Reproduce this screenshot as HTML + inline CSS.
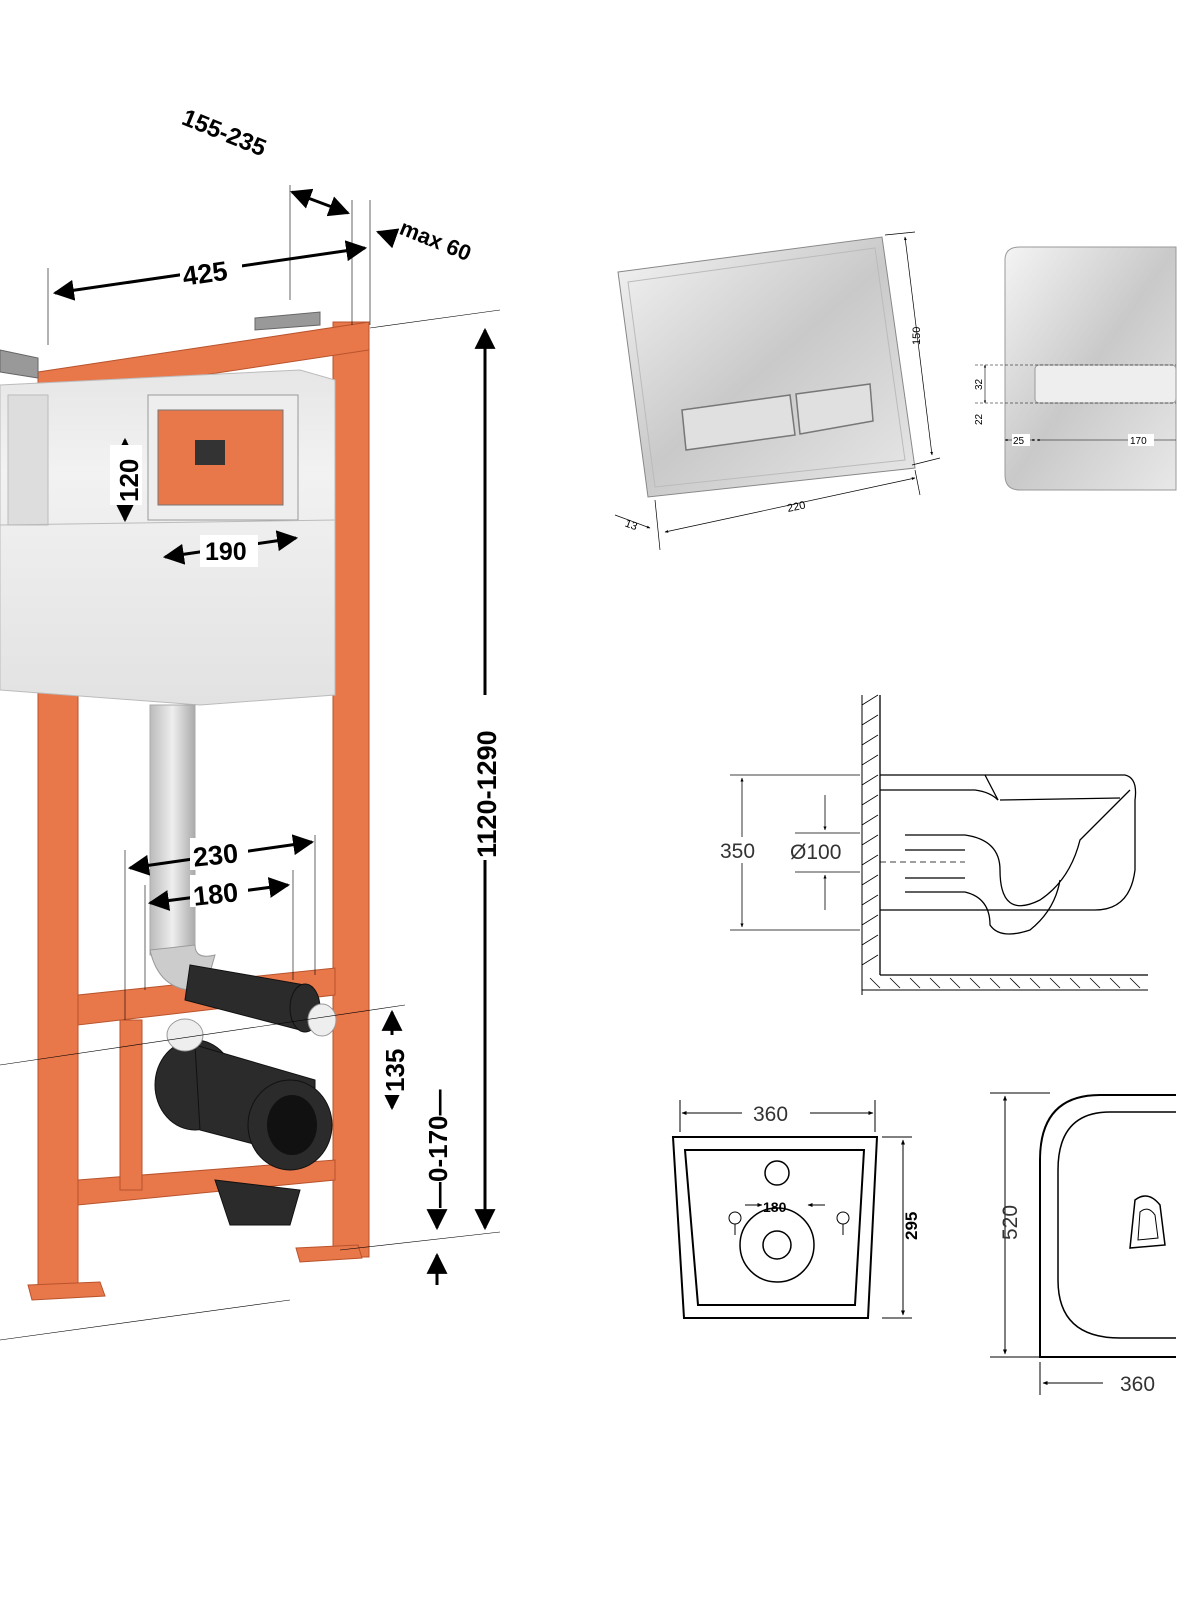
<!DOCTYPE html>
<html><head><meta charset="utf-8"><style>
html,body{margin:0;padding:0;background:#fff;width:1200px;height:1600px;overflow:hidden}
svg{display:block}
text{font-family:"Liberation Sans",sans-serif}
</style></head><body>
<svg width="1200" height="1600" viewBox="0 0 1200 1600" xmlns="http://www.w3.org/2000/svg">
<defs>
<marker id="a" viewBox="0 0 10 10" refX="9" refY="5" markerWidth="7" markerHeight="7" orient="auto-start-reverse"><path d="M0,0L10,5L0,10z" fill="#000"/></marker>
<marker id="s" viewBox="0 0 10 10" refX="9" refY="5" markerWidth="5" markerHeight="5" orient="auto-start-reverse"><path d="M0,1L10,5L0,9z" fill="#000"/></marker>
<linearGradient id="pl" x1="0" y1="0" x2="1" y2="1"><stop offset="0" stop-color="#f4f4f4"/><stop offset=".5" stop-color="#c9c9c9"/><stop offset="1" stop-color="#e8e8e8"/></linearGradient>
<linearGradient id="ci" x1="0" y1="0" x2="0" y2="1"><stop offset="0" stop-color="#e6e6e6"/><stop offset=".3" stop-color="#f2f2f2"/><stop offset="1" stop-color="#e2e2e2"/></linearGradient>
<linearGradient id="pp" x1="0" y1="0" x2="1" y2="0"><stop offset="0" stop-color="#bbb"/><stop offset=".5" stop-color="#eee"/><stop offset="1" stop-color="#aaa"/></linearGradient>
</defs>

<!-- ===== Frame ===== -->
<g fill="#e8774a" stroke="#b8532c" stroke-width="1">
<!-- right post -->
<rect x="333" y="322" width="36" height="935"/>
<!-- left post -->
<rect x="38" y="372" width="40" height="920"/>
<!-- top bar -->
<polygon points="38,372 369,322 369,350 38,400"/>
<!-- lower bars -->
<polygon points="78,995 335,968 335,995 78,1025"/>
<polygon points="78,1180 335,1160 335,1180 78,1205"/>
<rect x="120" y="1020" width="22" height="170"/>
<!-- feet -->
<polygon points="28,1285 100,1282 105,1296 32,1300"/>
<polygon points="296,1248 358,1245 362,1258 300,1262"/>
</g>
<g fill="#999" stroke="#666">
<polygon points="255,318 320,312 320,325 255,330"/>
<polygon points="0,350 38,358 38,378 0,372"/>
</g>
<!-- cistern -->
<path d="M0,385 L300,370 L335,380 L335,695 L200,705 L0,690 Z" fill="url(#ci)" stroke="#bbb"/>
<rect x="8" y="395" width="40" height="130" fill="#ddd" stroke="#bbb"/>
<rect x="148" y="395" width="150" height="125" fill="#eee" stroke="#999"/>
<rect x="158" y="410" width="125" height="95" fill="#e8774a" stroke="#777"/>
<rect x="195" y="440" width="30" height="25" fill="#333"/>
<line x1="0" y1="525" x2="335" y2="520" stroke="#bbb"/>
<!-- pipe -->
<rect x="150" y="705" width="45" height="250" fill="url(#pp)" stroke="#aaa"/>
<path d="M150,950 Q160,995 205,990 L215,955 Q195,960 195,945Z" fill="#ccc" stroke="#999"/>
<!-- black fittings -->
<g fill="#2b2b2b" stroke="#111">
<polygon points="190,965 305,985 300,1030 185,1000"/>
<ellipse cx="305" cy="1008" rx="15" ry="24"/>
<ellipse cx="195" cy="1085" rx="40" ry="45"/>
<polygon points="195,1045 315,1080 315,1160 200,1130"/>
<ellipse cx="290" cy="1125" rx="42" ry="45"/>
<polygon points="215,1180 300,1190 290,1225 230,1225"/>
</g>
<ellipse cx="292" cy="1125" rx="25" ry="30" fill="#111"/>
<ellipse cx="185" cy="1035" rx="18" ry="16" fill="#eee" stroke="#999"/>
<ellipse cx="322" cy="1020" rx="14" ry="16" fill="#eee" stroke="#999"/>

<!-- ===== Frame dimensions ===== -->
<g stroke="#000" stroke-width="1" fill="none">
<line x1="48" y1="268" x2="48" y2="345" stroke-width=".6"/>
<line x1="290" y1="185" x2="290" y2="300" stroke-width=".6"/>
<line x1="352" y1="200" x2="352" y2="325" stroke-width=".6"/>
<line x1="370" y1="200" x2="370" y2="325" stroke-width=".6"/>
<line x1="370" y1="328" x2="500" y2="310" stroke-width=".6"/>
<line x1="340" y1="1250" x2="500" y2="1232" stroke-width=".6"/>
<line x1="0" y1="1340" x2="290" y2="1300" stroke-width=".6"/>
<line x1="0" y1="1065" x2="405" y2="1005" stroke-width=".6"/>
<line x1="125" y1="850" x2="125" y2="1020" stroke-width=".6"/>
<line x1="315" y1="835" x2="315" y2="975" stroke-width=".6"/>
<line x1="145" y1="885" x2="145" y2="990" stroke-width=".6"/>
<line x1="293" y1="870" x2="293" y2="980" stroke-width=".6"/>
</g>
<g stroke="#000" stroke-width="3" fill="none" marker-start="url(#a)" marker-end="url(#a)">
<line x1="55" y1="293" x2="365" y2="248"/>
<line x1="292" y1="192" x2="348" y2="213"/>
<line x1="485" y1="330" x2="485" y2="1228"/>
<line x1="125" y1="440" x2="125" y2="520"/>
<line x1="165" y1="557" x2="296" y2="538"/>
<line x1="130" y1="868" x2="312" y2="842"/>
<line x1="150" y1="903" x2="288" y2="885"/>
<line x1="392" y1="1012" x2="392" y2="1108"/>
</g>
<line x1="378" y1="232" x2="392" y2="237" stroke="#000" stroke-width="3" marker-start="url(#a)"/>
<line x1="437" y1="1210" x2="437" y2="1228" stroke="#000" stroke-width="3" marker-end="url(#a)"/>
<line x1="437" y1="1255" x2="437" y2="1285" stroke="#000" stroke-width="3" marker-start="url(#a)"/>
<g font-weight="bold" fill="#000">
<rect x="180" y="255" width="62" height="30" fill="#fff"/>
<text x="182" y="282" font-size="27" transform="rotate(-8 210 270)">425</text>
<text x="170" y="143" font-size="24" transform="rotate(22 225 160)">155-235</text>
<text x="392" y="245" font-size="22" transform="rotate(22 425 255)">max 60</text>
<rect x="110" y="445" width="32" height="60" fill="#fff"/>
<text x="138" y="502" font-size="26" transform="rotate(-90 138 502)">120</text>
<rect x="200" y="535" width="58" height="32" fill="#fff"/>
<text x="205" y="560" font-size="25">190</text>
<rect x="190" y="838" width="58" height="32" fill="#fff"/>
<text x="193" y="864" font-size="27" transform="rotate(-6 220 855)">230</text>
<rect x="190" y="875" width="58" height="32" fill="#fff"/>
<text x="193" y="903" font-size="27" transform="rotate(-6 220 893)">180</text>
<rect x="470" y="695" width="30" height="165" fill="#fff"/>
<text x="496" y="858" font-size="27" transform="rotate(-90 496 858)">1120-1290</text>
<rect x="378" y="1035" width="30" height="60" fill="#fff"/>
<text x="404" y="1092" font-size="26" transform="rotate(-90 404 1092)">135</text>
<text x="447" y="1208" font-size="26" transform="rotate(-90 447 1208)">—0-170—</text>
</g>

<!-- ===== Flush plate ===== -->
<polygon points="618,272 882,237 915,468 648,497" fill="url(#pl)" stroke="#888"/>
<polygon points="628,282 875,248 905,460 655,487" fill="none" stroke="#bbb"/>
<polygon points="682,410 790,395 795,435 686,450" fill="#e0e0e0" stroke="#777" stroke-width="1.5"/>
<polygon points="796,394 870,384 873,421 800,434" fill="#e0e0e0" stroke="#777" stroke-width="1.5"/>
<g stroke="#000" stroke-width=".7" fill="none">
<line x1="885" y1="235" x2="915" y2="232"/><line x1="912" y1="465" x2="940" y2="458"/>
<line x1="905" y1="237" x2="932" y2="455" marker-start="url(#s)" marker-end="url(#s)"/>
<line x1="655" y1="500" x2="660" y2="550"/><line x1="915" y1="470" x2="920" y2="495"/>
<line x1="665" y1="532" x2="915" y2="478" marker-start="url(#s)" marker-end="url(#s)"/>
<line x1="615" y1="515" x2="650" y2="528" marker-end="url(#s)"/>
</g>
<text x="920" y="345" font-size="11" transform="rotate(-90 920 345)">150</text>
<text x="788" y="512" font-size="11" transform="rotate(-12 788 512)">220</text>
<text x="625" y="528" font-size="11" transform="rotate(20 630 525)">13</text>

<!-- second plate -->
<path d="M1005,260 Q1005,247 1020,247 L1176,247 L1176,490 L1020,490 Q1005,490 1005,475Z" fill="url(#pl)" stroke="#999"/>
<rect x="1035" y="365" width="141" height="38" rx="4" fill="#eee" stroke="#999"/>
<g stroke="#000" stroke-width=".6">
<line x1="975" y1="365" x2="1176" y2="365" stroke-dasharray="3,2"/>
<line x1="975" y1="403" x2="1176" y2="403" stroke-dasharray="3,2"/>
<line x1="985" y1="365" x2="985" y2="403" marker-start="url(#s)" marker-end="url(#s)"/>
<line x1="1005" y1="440" x2="1035" y2="440" marker-start="url(#s)" marker-end="url(#s)"/>
<line x1="1037" y1="440" x2="1176" y2="440" marker-start="url(#s)"/>
</g>
<text x="982" y="390" font-size="10" transform="rotate(-90 982 390)">32</text>
<text x="982" y="425" font-size="10" transform="rotate(-90 982 425)">22</text>
<rect x="1012" y="434" width="18" height="12" fill="#fff"/><text x="1013" y="444" font-size="10">25</text>
<rect x="1128" y="434" width="26" height="12" fill="#fff"/><text x="1130" y="444" font-size="10">170</text>

<!-- ===== Side view toilet ===== -->
<g stroke="#000" fill="none" stroke-width="1.3">
<line x1="880" y1="695" x2="880" y2="975"/>
<line x1="880" y1="975" x2="1148" y2="975"/>
<path d="M880,775 L1125,775 Q1138,778 1135,800 L1135,870 Q1130,910 1095,910 L880,910"/>
<path d="M880,790 L975,790 Q990,792 998,800"/>
<path d="M985,775 L998,800"/>
<path d="M1000,800 L1120,798"/>
<path d="M905,835 L965,835 M905,850 L965,850 M905,878 L965,878 M905,892 L965,892"/>
<path d="M965,835 Q1000,840 1000,870 Q1000,920 1040,900 Q1070,880 1080,840 Q1100,820 1130,790"/>
<path d="M965,892 Q990,898 990,925 Q1000,940 1030,930 Q1055,910 1060,880"/>
<line x1="880" y1="862" x2="965" y2="862" stroke-dasharray="6,4" stroke-width=".8"/>
</g>
<g stroke="#000" stroke-width="1">
<line x1="862" y1="695" x2="862" y2="995"/>
<g stroke-width=".8">
<line x1="862" y1="705" x2="878" y2="695"/><line x1="862" y1="725" x2="878" y2="715"/><line x1="862" y1="745" x2="878" y2="735"/><line x1="862" y1="765" x2="878" y2="755"/><line x1="862" y1="785" x2="878" y2="775"/><line x1="862" y1="805" x2="878" y2="795"/><line x1="862" y1="825" x2="878" y2="815"/><line x1="862" y1="845" x2="878" y2="835"/><line x1="862" y1="865" x2="878" y2="855"/><line x1="862" y1="885" x2="878" y2="875"/><line x1="862" y1="905" x2="878" y2="895"/><line x1="862" y1="925" x2="878" y2="915"/><line x1="862" y1="945" x2="878" y2="935"/><line x1="862" y1="965" x2="878" y2="955"/>
</g>
<line x1="862" y1="990" x2="1148" y2="990"/>
</g>
<g stroke="#000" stroke-width=".8">
<line x1="870" y1="978" x2="880" y2="988"/><line x1="890" y1="978" x2="900" y2="988"/><line x1="910" y1="978" x2="920" y2="988"/><line x1="930" y1="978" x2="940" y2="988"/><line x1="950" y1="978" x2="960" y2="988"/><line x1="970" y1="978" x2="980" y2="988"/><line x1="990" y1="978" x2="1000" y2="988"/><line x1="1010" y1="978" x2="1020" y2="988"/><line x1="1030" y1="978" x2="1040" y2="988"/><line x1="1050" y1="978" x2="1060" y2="988"/><line x1="1070" y1="978" x2="1080" y2="988"/><line x1="1090" y1="978" x2="1100" y2="988"/><line x1="1110" y1="978" x2="1120" y2="988"/><line x1="1130" y1="978" x2="1140" y2="988"/>
<line x1="730" y1="775" x2="860" y2="775"/><line x1="730" y1="930" x2="860" y2="930"/>
<line x1="742" y1="778" x2="742" y2="927" marker-start="url(#s)" marker-end="url(#s)"/>
<line x1="795" y1="833" x2="860" y2="833"/><line x1="795" y1="872" x2="860" y2="872"/>
<line x1="825" y1="795" x2="825" y2="830" marker-end="url(#s)"/>
<line x1="825" y1="910" x2="825" y2="875" marker-end="url(#s)"/>
</g>
<rect x="720" y="837" width="42" height="26" fill="#fff"/>
<text x="720" y="858" font-size="21" fill="#333">350</text>
<rect x="790" y="838" width="65" height="26" fill="#fff"/>
<text x="790" y="859" font-size="21" fill="#333">Ø100</text>

<!-- ===== Bottom toilet views ===== -->
<g stroke="#000" fill="none">
<path d="M673,1137 L877,1137 L868,1318 L684,1318 Z" stroke-width="2"/>
<path d="M685,1150 L864,1150 L855,1305 L698,1305 Z" stroke-width="2"/>
<circle cx="777" cy="1173" r="12" stroke-width="1.5"/>
<circle cx="777" cy="1245" r="37" stroke-width="1.5"/>
<circle cx="777" cy="1245" r="14" stroke-width="1.5"/>
<circle cx="735" cy="1218" r="6"/><circle cx="843" cy="1218" r="6"/>
<line x1="735" y1="1224" x2="735" y2="1235"/><line x1="843" y1="1224" x2="843" y2="1235"/>
<g stroke-width="1">
<line x1="680" y1="1100" x2="680" y2="1132"/><line x1="875" y1="1100" x2="875" y2="1132"/>
<line x1="682" y1="1113" x2="742" y2="1113" marker-start="url(#s)"/>
<line x1="810" y1="1113" x2="873" y2="1113" marker-end="url(#s)"/>
<line x1="882" y1="1137" x2="912" y2="1137"/><line x1="882" y1="1318" x2="912" y2="1318"/>
<line x1="903" y1="1140" x2="903" y2="1315" marker-start="url(#s)" marker-end="url(#s)"/>
<line x1="745" y1="1205" x2="762" y2="1205" marker-end="url(#s)"/>
<line x1="825" y1="1205" x2="808" y2="1205" marker-end="url(#s)"/>
<line x1="990" y1="1093" x2="1050" y2="1093"/><line x1="990" y1="1357" x2="1040" y2="1357"/>
<line x1="1005" y1="1096" x2="1005" y2="1354" marker-start="url(#s)" marker-end="url(#s)"/>
<line x1="1040" y1="1362" x2="1040" y2="1395"/>
<line x1="1043" y1="1383" x2="1103" y2="1383" marker-start="url(#s)"/>
</g>
<path d="M1176,1095 L1100,1095 Q1040,1095 1040,1160 L1040,1357 L1176,1357" stroke-width="2"/>
<path d="M1176,1112 L1110,1112 Q1058,1112 1058,1170 L1058,1280 Q1058,1338 1120,1338 L1176,1338" stroke-width="1.5"/>
<path d="M1135,1200 Q1148,1190 1160,1205 L1165,1245 L1130,1248 Z" stroke-width="1.5"/>
<path d="M1140,1212 Q1148,1205 1155,1215 L1158,1238 L1138,1240Z" stroke-width="1"/>
</g>
<text x="753" y="1121" font-size="21" fill="#333">360</text>
<text x="763" y="1212" font-size="14" font-weight="bold">180</text>
<text x="917" y="1240" font-size="17" font-weight="bold" transform="rotate(-90 917 1240)">295</text>
<text x="1017" y="1240" font-size="21" fill="#333" transform="rotate(-90 1017 1240)">520</text>
<text x="1120" y="1391" font-size="21" fill="#333">360</text>
</svg>
</body></html>
